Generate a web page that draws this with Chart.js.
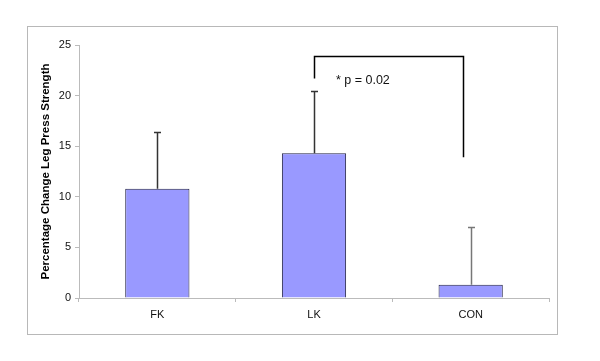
<!DOCTYPE html>
<html>
<head>
<meta charset="utf-8">
<script src="https://cdn.jsdelivr.net/npm/chart.js@4"></script>
<style>
  body { margin: 0; background: #fff; }
  #wrap { width: 600px; height: 361px; position: relative; }
</style>
</head>
<body>
<div id="wrap"><canvas id="chart" width="600" height="361"></canvas></div>
<script>
// data
const groups = ["FK", "LK", "CON"];
const means = [10.8, 14.3, 1.3];
const errorTops = [16.4, 20.5, 7.0];
const yTicks = [0, 5, 10, 15, 20, 25];

// significance bracket between LK and CON
const bracketX = [1, 1.95];        // category positions
const bracketY = [21.7, 23.9, 13.9]; // left end, top, right end
const bracketLabel = "* p = 0.02";
const bracketLabelPos = [1.14, 21.5];

// outer frame + error bars + bracket
const extras = {
    id: "extras",
    beforeDraw(chart) {
        const ctx = chart.ctx;
        ctx.save();
        ctx.strokeStyle = "#b8b8b8";
        ctx.lineWidth = 1;
        ctx.strokeRect(27.5, 26.5, 530, 308);
        ctx.restore();
    },
    afterDatasetsDraw(chart) {
        const ctx = chart.ctx;
        const x = chart.scales.x;
        const y = chart.scales.y;
        ctx.save();
        ctx.lineWidth = 1.5;
        errorTops.forEach((top, i) => {
            const px = Math.round(x.getPixelForValue(i)) + 0.5;
            const y0 = y.getPixelForValue(means[i]);
            const y1 = Math.round(y.getPixelForValue(top)) + 0.5;
            ctx.strokeStyle = i === 2 ? "#777" : "#333";
            ctx.beginPath();
            ctx.moveTo(px, y0);
            ctx.lineTo(px, y1);
            ctx.moveTo(px - 3.5, y1);
            ctx.lineTo(px + 3.5, y1);
            ctx.stroke();
        });

        // bracket
        const xl = Math.round(x.getPixelForValue(bracketX[0])) + 0.5;
        const xr = Math.round(x.getPixelForValue(bracketX[1])) + 0.5;
        ctx.strokeStyle = "#000";
        ctx.lineWidth = 1.5;
        ctx.beginPath();
        ctx.moveTo(xl, y.getPixelForValue(bracketY[0]));
        ctx.lineTo(xl, Math.round(y.getPixelForValue(bracketY[1])) + 0.5);
        ctx.lineTo(xr, Math.round(y.getPixelForValue(bracketY[1])) + 0.5);
        ctx.lineTo(xr, y.getPixelForValue(bracketY[2]));
        ctx.stroke();

        ctx.fillStyle = "#111";
        ctx.font = "12.5px 'Liberation Sans', Arial, sans-serif";
        ctx.textAlign = "left";
        ctx.textBaseline = "middle";
        ctx.fillText(bracketLabel, x.getPixelForValue(bracketLabelPos[0]), y.getPixelForValue(bracketLabelPos[1]));
        ctx.restore();
    }
};

const ctx = document.getElementById("chart").getContext("2d");
new Chart(ctx, {
    type: "bar",
    data: {
        labels: groups,
        datasets: [{
            data: means,
            backgroundColor: "#9999ff",
            borderColor: "#222244",
            borderWidth: 1,
            barPercentage: 0.82,
            categoryPercentage: 0.5
        }]
    },
    options: {
        responsive: false,
        animation: false,
        layout: { padding: { left: 28, top: 45, right: 51, bottom: 27 } },
        plugins: {
            legend: { display: false },
            tooltip: { enabled: false }
        },
        scales: {
            x: {
                afterFit: (s) => { s.height = 36; },
                grid: {
                    offset: true,
                    drawOnChartArea: false,
                    tickLength: 4,
                    color: "#bbb"
                },
                border: { color: "#bbb" },
                ticks: {
                    color: "#111",
                    padding: 6,
                    font: { family: "'Liberation Sans', Arial, sans-serif", size: 11 }
                }
            },
            y: {
                min: 0,
                max: 25,
                afterFit: (s) => { s.width = 51; },
                afterBuildTicks: (s) => { s.ticks = yTicks.map(v => ({ value: v })); },
                grid: {
                    drawOnChartArea: false,
                    tickLength: 4,
                    color: "#bbb"
                },
                border: { color: "#bbb" },
                ticks: {
                    color: "#111",
                    padding: 4,
                    font: { family: "'Liberation Sans', Arial, sans-serif", size: 11 }
                },
                title: {
                    display: true,
                    text: "Percentage Change Leg Press Strength",
                    color: "#000",
                    padding: { top: 11, bottom: 0 },
                    font: { family: "'Liberation Sans', Arial, sans-serif", size: 11.5, weight: "bold" }
                }
            }
        }
    },
    plugins: [extras]
});
</script>
</body>
</html>
